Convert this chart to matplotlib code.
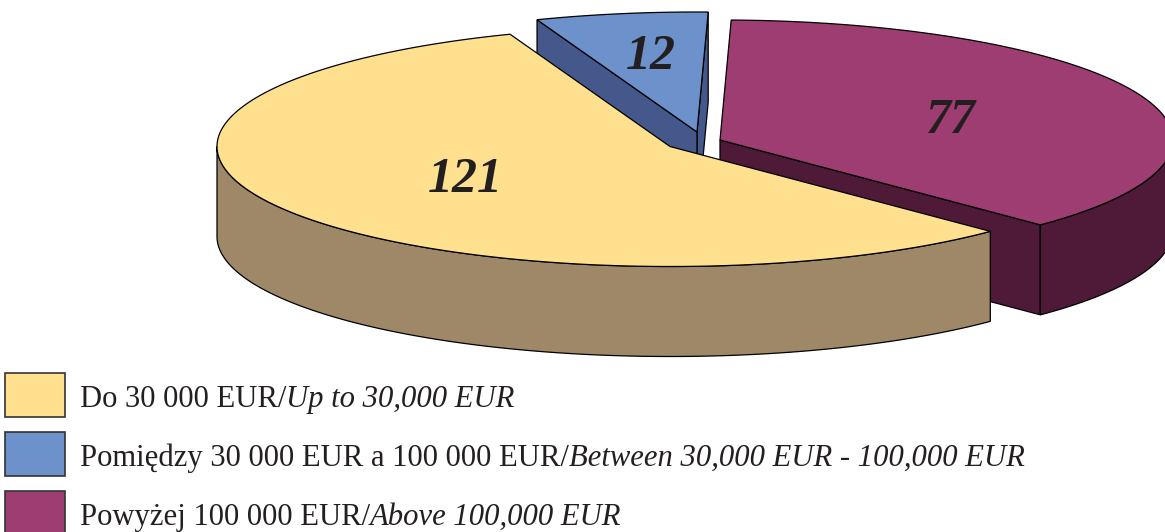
import matplotlib
matplotlib.use("Agg")
import matplotlib.pyplot as plt
from matplotlib.patches import Polygon, Rectangle
import numpy as np

# chart data
values = [77, 12, 121]
labels_pl = ["Powyżej 100 000 EUR/", "Pomiędzy 30 000 EUR a 100 000 EUR/", "Do 30 000 EUR/"]
labels_en = ["Above 100,000 EUR", "Between 30,000 EUR - 100,000 EUR", "Up to 30,000 EUR"]

# look of each slice, same order as values
top_colors = ["#9E3D71", "#6D91CB", "#FEE08F"]
wall_colors = ["#4E1A38", "#44588C", "#9F8868"]
centers = [(720, 140), (697, 132), (670, 146.5)]
warp = [1.012, 1.074, 0.985]  # the tilted view squeezes the angles a bit
cut_walls = [[0], [0, 1], []]  # which cut faces can be seen
label_pos = [(951, 121), (651, 57), (465, 180)]
legend_y = [520, 461, 402]
rx, ry, depth = 453, 120, 90
start_angle = -45

plt.rcParams["font.family"] = ["Liberation Serif"]
fig = plt.figure(figsize=(11.65, 5.32), dpi=100)
ax = fig.add_axes([0, 0, 1, 1])
ax.set_xlim(0, 1165)
ax.set_ylim(532, 0)
ax.axis("off")

sweeps = np.array(values) / sum(values) * 360 * np.array(warp)
starts = start_angle + np.concatenate([[0], np.cumsum(sweeps)[:-1]])


def arc(c, a0, a1):
    t = np.radians(np.linspace(a0, a1, 200))
    return np.column_stack([c[0] + rx * np.cos(t), c[1] - ry * np.sin(t)])


def draw_slice(i, z):
    c = centers[i]
    a0, a1 = starts[i], starts[i] + sweeps[i]
    down = np.array([0, depth])
    ends = [arc(c, a0, a0)[0], arc(c, a1, a1)[0]]
    cp = np.array(c)
    # cut walls
    for k in cut_walls[i]:
        p = ends[k]
        ax.add_patch(Polygon([p, cp, cp + down, p + down], fc=wall_colors[i], ec="black", lw=0.9, zorder=z))
    # outer wall, only the part facing us
    lo, hi = max(a0, 180), min(a1, 360)
    if a0 < 0:
        lo, hi = a0, min(a1, 0)
    if hi > lo:
        front = arc(c, lo, hi)
        ax.add_patch(Polygon(np.vstack([front, front[::-1] + down]), fc=wall_colors[i], ec="black", lw=0.9, zorder=z))
    # top face
    ax.add_patch(Polygon(np.vstack([arc(c, a0, a1), cp]), fc=top_colors[i], ec="black", lw=0.9, zorder=z + 0.5))


# back to front
draw_slice(0, 2)
draw_slice(1, 3)
draw_slice(2, 4)

for i in range(len(values)):
    ax.text(label_pos[i][0], label_pos[i][1], str(values[i]), fontsize=36, fontweight="bold", fontstyle="italic",
            color="#231F20", ha="center", va="center", zorder=6)

# legend
renderer = fig.canvas.get_renderer()
for i in range(len(values)):
    y = legend_y[i]
    ax.add_patch(Rectangle((5, y - 29), 60, 44, fc=top_colors[i], ec="#333333", lw=1.2, clip_on=True))
    t = ax.text(80, y + 5, labels_pl[i], fontsize=22.1, color="#231F20", va="baseline")
    w = t.get_window_extent(renderer).x1
    ax.text(w, y + 5, labels_en[i], fontsize=22.1, fontstyle="italic", color="#231F20", va="baseline")

fig.savefig("out.png", dpi=100)
